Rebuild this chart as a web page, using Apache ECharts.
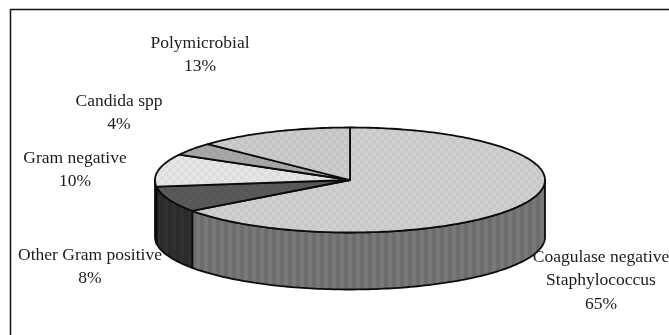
<!DOCTYPE html>
<html>
<head>
<meta charset="utf-8">
<style>html,body{margin:0;padding:0;background:#fff}#chart{width:669px;height:335px}</style>
<script src="https://cdn.jsdelivr.net/npm/echarts@6/dist/echarts.min.js"></script>
</head>
<body>
<div id="chart"></div>
<script>
// Share of isolates by organism group, clockwise from twelve o'clock
const categories = ['Coagulase negative\nStaphylococcus', 'Other Gram positive', 'Gram negative', 'Candida spp', 'Polymicrobial'];
const percents = [65, 8, 10, 4, 13];

// Appearance of each slice, in the same order
const topColors = ['#d0d0d0', '#5a5a5a', '#e6e6e6', '#a8a8a8', '#cccccc'];
const sideColors = ['#787878', '#303030', '#8a8a8a', '#5a5a5a', '#6a6a6a'];
const labelCentres = [[601, 257], [90, 255], [75, 158], [119, 101], [200, 43]];

// Tilted disc geometry
const disc = { cx: 350, cy: 180, rx: 195, ry: 52.5, depth: 57 };
const lineHeight = 23.5;

function rimPoint(t, dy) {
  return [disc.cx + disc.rx * Math.sin(t), disc.cy - disc.ry * Math.cos(t) + (dy || 0)];
}

function arc(from, to, dy) {
  const pts = [];
  const n = Math.max(2, Math.ceil(Math.abs(to - from) / 0.02));
  for (let i = 0; i <= n; i++) pts.push(rimPoint(from + (to - from) * i / n, dy));
  return pts;
}

// Small repeating tiles give the halftone look of the fills
function stripeTile(color) {
  const c = document.createElement('canvas');
  c.width = 8; c.height = 4;
  const g = c.getContext('2d');
  g.fillStyle = color; g.fillRect(0, 0, 8, 4);
  g.fillStyle = 'rgba(0,0,0,0.09)'; g.fillRect(0, 0, 4, 4);
  return { image: c, repeat: 'repeat' };
}
function ditherTile(color) {
  const c = document.createElement('canvas');
  c.width = 8; c.height = 8;
  const g = c.getContext('2d');
  g.fillStyle = color; g.fillRect(0, 0, 8, 8);
  g.fillStyle = 'rgba(0,0,0,0.035)';
  g.fillRect(0, 0, 4, 4); g.fillRect(4, 4, 4, 4);
  return { image: c, repeat: 'repeat' };
}

// Convert percentages into start and end angles around the disc
const total = percents.reduce((a, b) => a + b, 0);
let running = 0;
const sweeps = percents.map(v => {
  const from = running / total * 2 * Math.PI;
  running += v;
  return [from, running / total * 2 * Math.PI];
});

const outline = { stroke: '#0c0c0c', lineWidth: 1.8, lineJoin: 'round' };

function renderSlice(params, api) {
  const i = params.dataIndex;
  const [from, to] = sweeps[i];
  const children = [];

  // Wall: only the part of the rim facing the viewer, between 90 and 270 degrees
  const a = Math.max(from, Math.PI / 2), b = Math.min(to, 3 * Math.PI / 2);
  if (b > a) {
    const upper = arc(a, b, 0);
    const lower = arc(b, a, disc.depth);
    children.push({
      type: 'polygon',
      shape: { points: upper.concat(lower) },
      style: Object.assign({ fill: stripeTile(sideColors[i]) }, outline)
    });
  }

  // Top face
  children.push({
    type: 'polygon',
    shape: { points: [[disc.cx, disc.cy]].concat(arc(from, to, 0)) },
    style: Object.assign({ fill: ditherTile(topColors[i]) }, outline)
  });

  // Category name with its percentage underneath
  const lines = categories[i].split('\n').concat(api.value(0) + '%');
  lines.forEach((text, k) => {
    children.push({
      type: 'text',
      style: {
        x: labelCentres[i][0],
        y: labelCentres[i][1] + k * lineHeight,
        text,
        fill: '#1c1c1c',
        font: '17.5px "Liberation Serif", serif',
        align: 'center',
        verticalAlign: 'middle'
      }
    });
  });

  return { type: 'group', children };
}

const chart = echarts.init(document.getElementById('chart'), null, { renderer: 'canvas' });
chart.setOption({
  animation: false,
  backgroundColor: '#fff',
  graphic: [{
    // Surrounding frame; its right and bottom edges run past the page
    type: 'rect',
    shape: { x: 10.5, y: 9.5, width: 700, height: 400 },
    style: { fill: 'none', stroke: '#111', lineWidth: 1.5 },
    silent: true,
    z: 0
  }],
  series: [{
    type: 'custom',
    coordinateSystem: 'none',
    data: percents.map(v => [v]),
    renderItem: renderSlice,
    z: 2
  }]
});
</script>
</body>
</html>
